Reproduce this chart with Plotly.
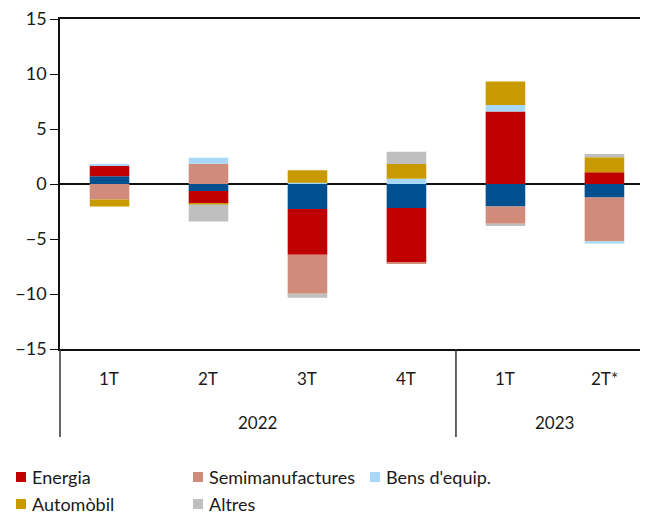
import plotly.graph_objects as go

quarters = ["1T", "2T", "3T", "4T", "1T", "2T*"]
years = ["2022", "2023"]
year_spans = [(0, 3), (4, 5)]

series_names = ["Alimentació", "Energia", "Semimanufactures", "Bens d'equip.", "Automòbil", "Altres"]
alimentacio = [0.70, -0.63, -2.27, -2.18, -2.04, -1.22]
energia = [0.96, -1.15, -4.17, -4.99, 6.60, 1.07]
semimanufactures = [-1.42, 1.85, -3.53, -0.10, -1.57, -3.99]
bens_equip = [0.15, 0.54, 0.12, 0.48, 0.58, -0.21]
automobil = [-0.63, -0.08, 1.12, 1.33, 2.14, 1.36]
altres = [0.0, -1.55, -0.36, 1.12, -0.21, 0.30]

series_values = [alimentacio, energia, semimanufactures, bens_equip, automobil, altres]
colors = ["#00508F", "#C00000", "#D18B7B", "#A8D8F7", "#C99A00", "#BFBFBF"]
show_legend = [False, True, True, True, True, True]

FONT = "Lato"
TXT = "#1a1a1a"
x_pos = list(range(len(quarters)))
x_range = [-0.5, 5.44]

# the page body adds an 8px offset; work in reference-pixel coordinates
OFF = 8
W, H = 648 - OFF, 514 - OFF
ML, MR, MT = 60 - OFF, 0, 19 - OFF
MB = H - (349 - OFF)
PW, PH = W - ML - MR, H - MT - MB

def px_to_paper_x(px):
    return (px - OFF - ML) / PW

def px_to_paper_y(py):
    return (H - MB - (py - OFF)) / PH

fig = go.Figure()
for name, vals, col in zip(series_names, series_values, colors):
    fig.add_trace(go.Bar(
        x=x_pos, y=vals, name=name, marker_color=col,
        marker_line_width=0, width=0.4, showlegend=False,
    ))

# quarter labels
for xi, q in zip(x_pos, quarters):
    fig.add_annotation(x=xi, xref="x", y=px_to_paper_y(378), yref="paper",
                       text=q, showarrow=False, yanchor="middle",
                       font=dict(family=FONT, size=17, color=TXT))
# year labels
for (a, b), yr in zip(year_spans, years):
    fig.add_annotation(x=(a + b) / 2, xref="x", y=px_to_paper_y(423), yref="paper",
                       text=yr, showarrow=False, yanchor="middle",
                       font=dict(family=FONT, size=17, color=TXT))

# group dividers
def to_paper(xv):
    return (xv - x_range[0]) / (x_range[1] - x_range[0])
for xv in [-0.5, 3.5]:
    p = to_paper(xv)
    fig.add_shape(type="line", xref="paper", yref="paper", x0=p, x1=p,
                  y0=0, y1=px_to_paper_y(437), line=dict(color="#333", width=1.5))

# legend (custom, laid out in rows of three)
legend_items = [(n, c) for n, c, s in zip(series_names, colors, show_legend) if s]
col_x = [16, 193, 370]
row_y = [477, 504]
for i, (name, col) in enumerate(legend_items):
    cx = col_x[i % 3]
    cy = row_y[i // 3]
    fig.add_shape(type="rect", xref="paper", yref="paper",
                  x0=px_to_paper_x(cx), x1=px_to_paper_x(cx + 10),
                  y0=px_to_paper_y(cy - 5), y1=px_to_paper_y(cy + 5),
                  fillcolor=col, line=dict(width=0))
    fig.add_annotation(x=px_to_paper_x(cx + 14), xref="paper",
                       y=px_to_paper_y(cy), yref="paper",
                       text=name, showarrow=False, xanchor="left", yanchor="middle",
                       font=dict(family=FONT, size=18, color=TXT))

fig.update_layout(
    width=W, height=H,
    margin=dict(l=ML, r=MR, t=MT, b=MB, autoexpand=False),
    barmode="relative",
    showlegend=False,
    paper_bgcolor="white", plot_bgcolor="white",
    font=dict(family=FONT, size=17, color=TXT),
    xaxis=dict(range=x_range, showticklabels=False, ticks="", showgrid=False,
               zeroline=False, showline=True, mirror=True, linecolor="#111", linewidth=1.5),
    yaxis=dict(range=[-15, 15], tickvals=[-15, -10, -5, 0, 5, 10, 15],
               ticktext=["\u221215", "\u221210", "\u22125", "0", "5", "10", "15"],
               ticks="outside", ticklen=8, tickcolor="#111", tickwidth=1,
               ticklabeloverflow="allow",
               showgrid=False, zeroline=True, zerolinecolor="#111", zerolinewidth=2,
               showline=True, linecolor="#111", linewidth=1.5, layer="above traces",
               tickfont=dict(family=FONT, size=18, color=TXT)),
)

fig.write_html("out.html")
